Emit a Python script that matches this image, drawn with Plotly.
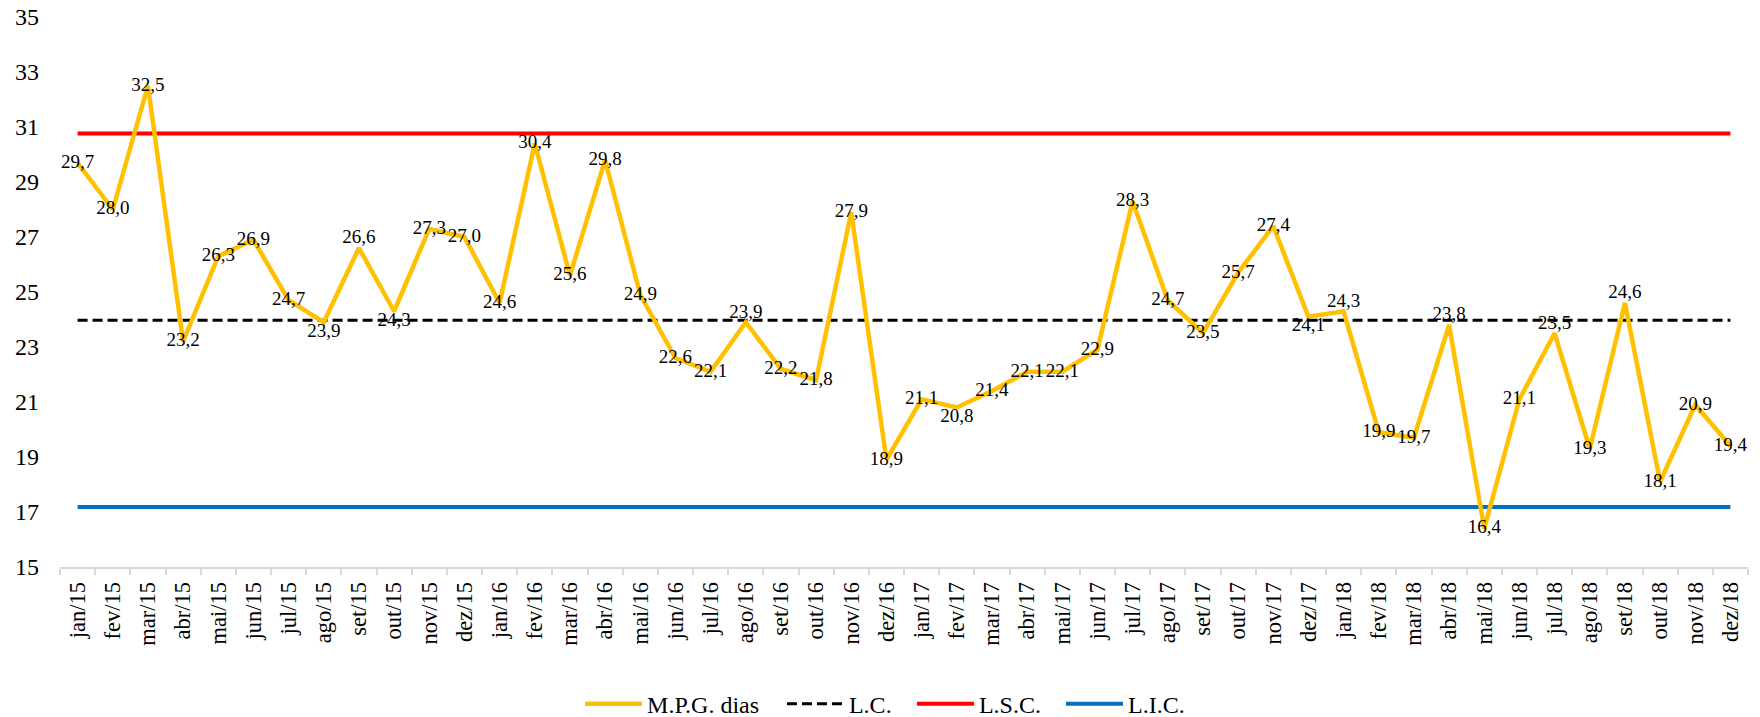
import plotly.graph_objects as go

months = ["jan", "fev", "mar", "abr", "mai", "jun", "jul", "ago", "set", "out", "nov", "dez"]
years = ["15", "16", "17", "18"]
categories = [f"{m}/{y}" for y in years for m in months]

mpg_dias = [29.7, 28.0, 32.5, 23.2, 26.3, 26.9, 24.7, 23.9, 26.6, 24.3, 27.3, 27.0,
            24.6, 30.4, 25.6, 29.8, 24.9, 22.6, 22.1, 23.9, 22.2, 21.8, 27.9, 18.9,
            21.1, 20.8, 21.4, 22.1, 22.1, 22.9, 28.3, 24.7, 23.5, 25.7, 27.4, 24.1,
            24.3, 19.9, 19.7, 23.8, 16.4, 21.1, 23.5, 19.3, 24.6, 18.1, 20.9, 19.4]

lc_value = 23.97
lsc_value = 30.76
lic_value = 17.18

label_pos = ["middle center"] * len(mpg_dias)
for i in (7, 9, 25, 35):
    label_pos[i] = "bottom center"
for i in (8, 19, 36, 39, 42, 44):
    label_pos[i] = "top center"

labels = [f"{v:.1f}".replace(".", ",") for v in mpg_dias]

font_family = "Liberation Serif, Times New Roman, serif"

fig = go.Figure()
fig.add_trace(go.Scatter(
    x=categories, y=[lc_value] * len(categories), name="L.C.", mode="lines",
    line=dict(color="#000000", width=3, dash="10px,5px"), legend="legend2",
))
fig.add_trace(go.Scatter(
    x=categories, y=[lsc_value] * len(categories), name="L.S.C.", mode="lines",
    line=dict(color="#FF0000", width=4), legend="legend3",
))
fig.add_trace(go.Scatter(
    x=categories, y=[lic_value] * len(categories), name="L.I.C.", mode="lines",
    line=dict(color="#0070C0", width=4), legend="legend4",
))
fig.add_trace(go.Scatter(
    x=categories, y=mpg_dias, name="M.P.G. dias", mode="lines+text",
    line=dict(color="#FFC000", width=4.5),
    text=labels, textposition=label_pos,
    textfont=dict(family=font_family, size=19, color="#000000"),
    cliponaxis=False, legend="legend",
))

def legend_at(xpos):
    return dict(
        orientation="h", x=xpos, xanchor="left",
        yref="container", y=0.018, yanchor="middle",
        font=dict(family=font_family, size=24, color="#000000"),
        itemwidth=57, bgcolor="rgba(0,0,0,0)",
    )

fig.update_layout(
    width=1760, height=717,
    margin=dict(l=60, r=12, t=17, b=150, autoexpand=False),
    paper_bgcolor="white", plot_bgcolor="white",
    font=dict(family=font_family, color="#000000"),
    showlegend=True,
    legend=legend_at(0.3081),
    legend2=legend_at(0.4277),
    legend3=legend_at(0.5047),
    legend4=legend_at(0.5930),
    xaxis=dict(
        type="category", range=[-0.5, len(categories) - 0.5],
        showgrid=False, showline=True, linecolor="#D9D9D9", linewidth=2,
        ticks="outside", tickson="boundaries", ticklen=6, tickcolor="#D9D9D9", tickwidth=1.5,
        tickangle=-90, tickfont=dict(family=font_family, size=22.5, color="#000000"),
        ticklabelstandoff=4, automargin=False,
        zeroline=False,
    ),
    yaxis=dict(
        range=[15, 35], tickvals=list(range(15, 36, 2)),
        showgrid=False, showline=False, zeroline=False,
        tickfont=dict(family=font_family, size=24, color="#000000"),
        ticklabelstandoff=20, automargin=False,
    ),
)

fig.write_html("out.html")
